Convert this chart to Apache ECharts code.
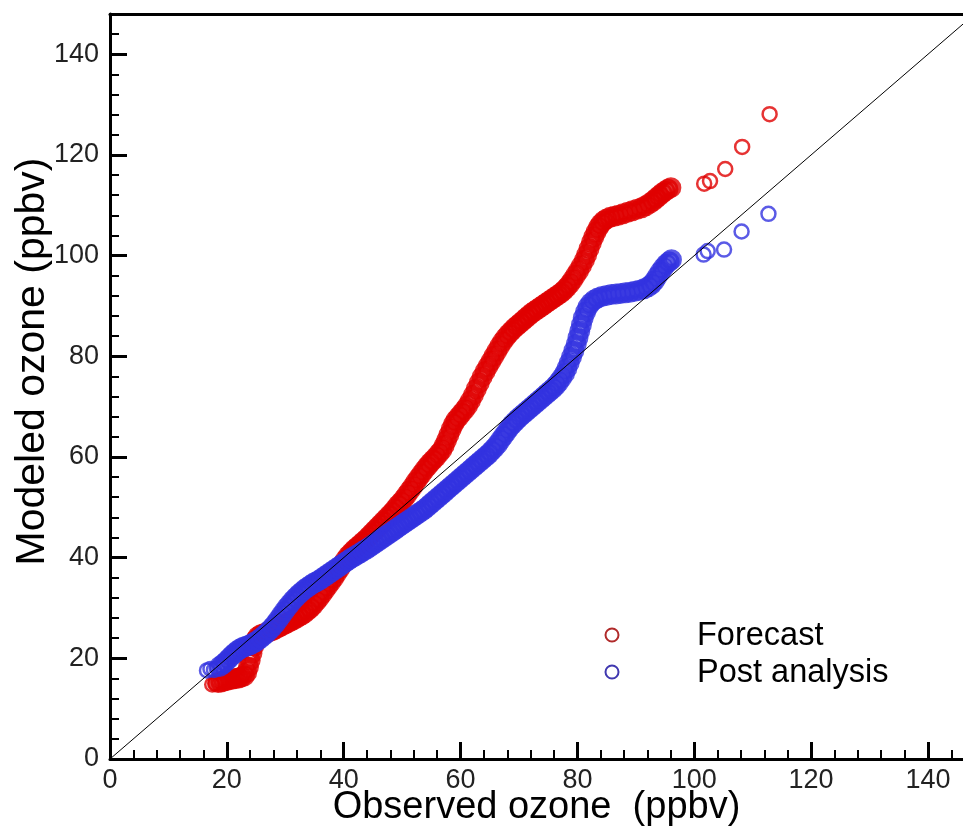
<!DOCTYPE html>
<html>
<head>
<meta charset="utf-8">
<script src="https://cdn.jsdelivr.net/npm/echarts@6.0.0/dist/echarts.min.js"></script>
<style>
  html, body { margin: 0; padding: 0; background: #fff; }
  #chart { width: 963px; height: 831px; }
</style>
</head>
<body>
<div id="chart"></div>
<script>
// Quantile pairs [observed ozone, modeled ozone] in ppbv
const forecast = [
  [17.5,14.8],[18.0,15.0],[18.5,15.2],[19.0,15.3],[19.5,15.5],[20.0,15.6],[20.5,15.8],[21.0,15.9],
  [21.5,16.0],[22.0,16.1],[22.5,16.3],[23.0,16.5],[23.4,17.2],[23.7,18.3],[24.0,19.6],[24.3,21.0],
  [24.6,22.4],[24.9,23.6],[25.3,24.3],[25.8,24.7],[26.3,24.9],[26.8,25.1],[27.3,25.3],[27.8,25.5],
  [28.3,25.8],[28.8,26.1],[29.3,26.4],[29.8,26.7],[30.3,27.0],[30.8,27.3],[31.3,27.6],[31.8,27.9],
  [32.3,28.3],[32.8,28.6],[33.3,29.0],[33.8,29.5],[34.3,30.0],[34.8,30.6],[35.3,31.3],[35.8,32.0],
  [36.3,32.8],[36.8,33.6],[37.3,34.4],[37.8,35.2],[38.3,36.0],[38.8,36.9],[39.3,37.8],[39.8,38.7],
  [40.3,39.6],[40.8,40.4],[41.3,41.0],[41.8,41.6],[42.3,42.1],[42.8,42.6],[43.3,43.1],[43.8,43.6],
  [44.3,44.2],[44.8,44.8],[45.3,45.4],[45.8,46.0],[46.3,46.6],[46.8,47.2],[47.3,47.8],[47.8,48.4],
  [48.3,49.0],[48.8,49.7],[49.3,50.4],[49.8,51.0],[50.3,51.7],[50.8,52.5],[51.3,53.3],[51.8,54.1],
  [52.3,55.0],[52.8,55.8],[53.3,56.6],[53.8,57.4],[54.3,58.1],[54.8,58.8],[55.3,59.4],[55.8,60.0],
  [56.3,60.7],[56.8,61.4],[57.2,62.3],[57.6,63.3],[58.0,64.4],[58.4,65.5],[58.8,66.5],[59.2,67.3],
  [59.7,68.0],[60.2,68.7],[60.7,69.4],[61.2,70.2],[61.7,71.2],[62.2,72.3],[62.7,73.5],[63.2,74.7],
  [63.7,75.9],[64.2,77.0],[64.7,78.0],[65.2,79.0],[65.7,80.0],[66.2,81.0],[66.7,82.0],[67.2,82.9],
  [67.7,83.7],[68.2,84.4],[68.7,85.0],[69.2,85.6],[69.7,86.1],[70.2,86.6],[70.7,87.1],[71.2,87.6],
  [71.7,88.1],[72.2,88.6],[72.7,89.0],[73.2,89.4],[73.7,89.8],[74.2,90.2],[74.7,90.6],[75.2,91.0],
  [75.7,91.4],[76.2,91.8],[76.7,92.2],[77.2,92.6],[77.7,93.1],[78.2,93.7],[78.7,94.4],[79.2,95.2],
  [79.7,96.1],[80.2,97.0],[80.7,98.0],[81.2,99.1],[81.6,100.2],[82.0,101.4],[82.4,102.6],[82.8,103.7],
  [83.2,104.7],[83.6,105.6],[84.0,106.3],[84.5,106.9],[85.0,107.3],[85.6,107.6],[86.3,107.8],[87.0,108.0],
  [87.8,108.3],[88.6,108.6],[89.4,108.9],[90.2,109.2],[91.0,109.5],[91.7,109.9],[92.4,110.4],[93.0,110.9],
  [93.5,111.4],[94.0,111.9],[94.5,112.4],[95.0,112.8],[95.5,113.2],[96.0,113.5],
  [101.7,114.3],[102.7,114.8],[105.3,117.2],[108.2,121.6],[112.9,128.1]
];

const postAnalysis = [
  [16.6,17.6],[17.2,17.9],[17.8,17.7],[18.3,18.0],[18.8,18.4],[19.3,18.8],[19.8,19.3],[20.3,19.9],
  [20.8,20.5],[21.3,21.0],[21.8,21.5],[22.3,21.9],[22.8,22.2],[23.3,22.4],[23.8,22.6],[24.3,22.9],
  [24.8,23.2],[25.3,23.6],[25.8,24.0],[26.3,24.5],[26.8,25.0],[27.3,25.6],[27.8,26.2],[28.3,26.9],
  [28.8,27.7],[29.3,28.5],[29.8,29.3],[30.3,30.1],[30.8,30.8],[31.3,31.5],[31.8,32.1],[32.3,32.7],
  [32.8,33.2],[33.3,33.7],[33.8,34.1],[34.3,34.5],[34.8,34.9],[35.3,35.2],[35.8,35.5],[36.3,35.9],
  [36.8,36.3],[37.3,36.7],[37.8,37.1],[38.3,37.5],[38.8,37.9],[39.3,38.3],[39.8,38.7],[40.3,39.1],
  [40.8,39.5],[41.3,39.9],[41.8,40.2],[42.3,40.6],[42.8,40.9],[43.3,41.3],[43.8,41.6],[44.3,42.0],
  [44.8,42.4],[45.3,42.8],[45.8,43.2],[46.3,43.6],[46.8,44.0],[47.3,44.4],[47.8,44.8],[48.3,45.2],
  [48.8,45.6],[49.3,46.0],[49.8,46.4],[50.3,46.8],[50.8,47.2],[51.3,47.6],[51.8,48.0],[52.3,48.4],
  [52.8,48.8],[53.3,49.2],[53.8,49.6],[54.3,50.1],[54.8,50.6],[55.3,51.1],[55.8,51.6],[56.3,52.1],
  [56.8,52.6],[57.3,53.1],[57.8,53.6],[58.3,54.1],[58.8,54.6],[59.3,55.1],[59.8,55.6],[60.3,56.1],
  [60.8,56.6],[61.3,57.1],[61.8,57.6],[62.3,58.1],[62.8,58.6],[63.3,59.1],[63.8,59.6],[64.3,60.1],
  [64.8,60.6],[65.3,61.2],[65.8,61.8],[66.3,62.5],[66.8,63.3],[67.3,64.1],[67.8,64.9],[68.3,65.7],
  [68.8,66.4],[69.3,67.0],[69.8,67.6],[70.3,68.1],[70.8,68.6],[71.3,69.1],[71.8,69.6],[72.3,70.1],
  [72.8,70.6],[73.3,71.1],[73.8,71.6],[74.3,72.1],[74.8,72.6],[75.3,73.1],[75.8,73.6],[76.3,74.2],
  [76.8,74.9],[77.3,75.7],[77.8,76.6],[78.2,77.6],[78.6,78.7],[79.0,79.9],[79.4,81.1],[79.8,82.4],
  [80.1,83.7],[80.4,85.0],[80.7,86.3],[81.0,87.6],[81.4,88.8],[81.8,89.8],[82.3,90.6],[82.9,91.2],
  [83.5,91.6],[84.2,91.9],[85.0,92.1],[85.8,92.3],[86.6,92.4],[87.4,92.5],[88.2,92.6],[89.0,92.7],
  [89.8,92.9],[90.6,93.1],[91.4,93.4],[92.1,93.8],[92.7,94.3],[93.2,95.0],[93.7,95.9],[94.2,96.8],
  [94.7,97.6],[95.2,98.3],[95.7,98.8],[96.1,99.2],
  [101.6,100.2],[102.3,100.9],[105.1,101.2],[108.1,104.8],[112.7,108.3]
];

// 1:1 reference line
const oneToOne = [[0, 0], [150, 150]];

// Axis ticks and labels
const majorTicks = [0, 20, 40, 60, 80, 100, 120, 140];
const xMinorTicks = [4,8,12,16,24,28,32,36,44,48,52,56,64,68,72,76,84,88,92,96,104,108,112,116,124,128,132,136,144];
const yMinorTicks = [4,8,12,16,24,28,32,36,44,48,52,56,64,68,72,76,84,88,92,96,104,108,112,116,124,128,132,136,144];

const FONT = '"Liberation Sans", Arial, Helvetica, sans-serif';
const RED = '#e00000';
const BLUE = '#3232e0';
const X_MAX = 146;
const Y_MAX = 148;

// Where quantiles crowd together the rings merge into a solid band;
// isolated quantiles at either end are drawn as plain open circles.
function isCrowded(p) { return p[0] >= 18.5 && p[0] <= 97; }

function quantileItems(points, color) {
  return points.map(p => isCrowded(p)
    ? { value: p, symbolSize: 15, itemStyle: { color: 'rgba(0,0,0,0)', borderColor: color, borderWidth: 6 } }
    : { value: p, symbolSize: 14, itemStyle: { color: 'rgba(0,0,0,0)', borderColor: color, borderWidth: 2.5 } });
}

const chart = echarts.init(document.getElementById('chart'), null, { renderer: 'canvas' });

function majorAxis(extra) {
  return Object.assign({
    type: 'value',
    min: 0,
    splitLine: { show: false },
    axisLine: { show: true, onZero: false, lineStyle: { color: '#000', width: 3 } },
    axisTick: { show: true, inside: true, length: 17, customValues: majorTicks,
                lineStyle: { color: '#000', width: 3 } }
  }, extra);
}

function minorAxis(extra, values) {
  return Object.assign({
    type: 'value',
    min: 0,
    splitLine: { show: false },
    axisLine: { show: false },
    axisTick: { show: true, inside: true, length: 9, customValues: values,
                lineStyle: { color: '#000', width: 2 } },
    axisLabel: { show: false }
  }, extra);
}

const option = {
  animation: false,
  backgroundColor: '#fff',
  grid: { left: 110, right: 0, top: 14, bottom: 72, containLabel: false, outerBoundsMode: 'none' },
  xAxis: [
    majorAxis({
      max: X_MAX, position: 'bottom',
      axisLabel: { show: true, customValues: majorTicks, fontSize: 27, color: '#222',
                   fontFamily: FONT, margin: 8 },
      name: 'Observed ozone  (ppbv)', nameLocation: 'middle', nameGap: 30, nameMoveOverlap: false,
      nameTextStyle: { fontSize: 38, color: '#000', fontFamily: FONT }
    }),
    minorAxis({ max: X_MAX, position: 'bottom' }, xMinorTicks),
    {
      type: 'value', min: 0, max: X_MAX, position: 'top',
      splitLine: { show: false },
      axisLine: { show: true, onZero: false, lineStyle: { color: '#000', width: 3 } },
      axisTick: { show: false }, axisLabel: { show: false }
    }
  ],
  yAxis: [
    majorAxis({
      max: Y_MAX, position: 'left',
      axisLabel: { show: true, customValues: majorTicks, fontSize: 27, color: '#222',
                   fontFamily: FONT, margin: 11 },
      name: 'Modeled ozone (ppbv)', nameLocation: 'middle', nameGap: 57, nameMoveOverlap: false,
      nameTextStyle: { fontSize: 41, color: '#000', fontFamily: FONT, padding: [0, 0, 0, 50] }
    }),
    minorAxis({ max: Y_MAX, position: 'left' }, yMinorTicks)
  ],
  series: [
    {
      name: 'Forecast', type: 'scatter', data: quantileItems(forecast, RED),
      xAxisIndex: 0, yAxisIndex: 0, symbol: 'circle', z: 2
    },
    {
      name: 'Post analysis', type: 'scatter', data: quantileItems(postAnalysis, BLUE),
      xAxisIndex: 0, yAxisIndex: 0, symbol: 'circle', z: 3
    },
    {
      name: '1:1', type: 'line', data: oneToOne,
      xAxisIndex: 0, yAxisIndex: 0,
      symbol: 'none', clip: true, z: 4, silent: true,
      lineStyle: { color: '#000', width: 1 }
    }
  ],
  graphic: [
    { type: 'circle', x: 612, y: 635, shape: { cx: 0, cy: 0, r: 6.5 },
      style: { fill: 'none', stroke: '#b02a2a', lineWidth: 2 } },
    { type: 'text', x: 697, y: 636,
      style: { text: 'Forecast', font: '32.5px ' + FONT, fill: '#000', verticalAlign: 'middle' } },
    { type: 'circle', x: 612, y: 672, shape: { cx: 0, cy: 0, r: 6.5 },
      style: { fill: 'none', stroke: '#4038b0', lineWidth: 2 } },
    { type: 'text', x: 697, y: 673,
      style: { text: 'Post analysis', font: '32.5px ' + FONT, fill: '#000', verticalAlign: 'middle' } }
  ]
};

chart.setOption(option);
</script>
</body>
</html>
